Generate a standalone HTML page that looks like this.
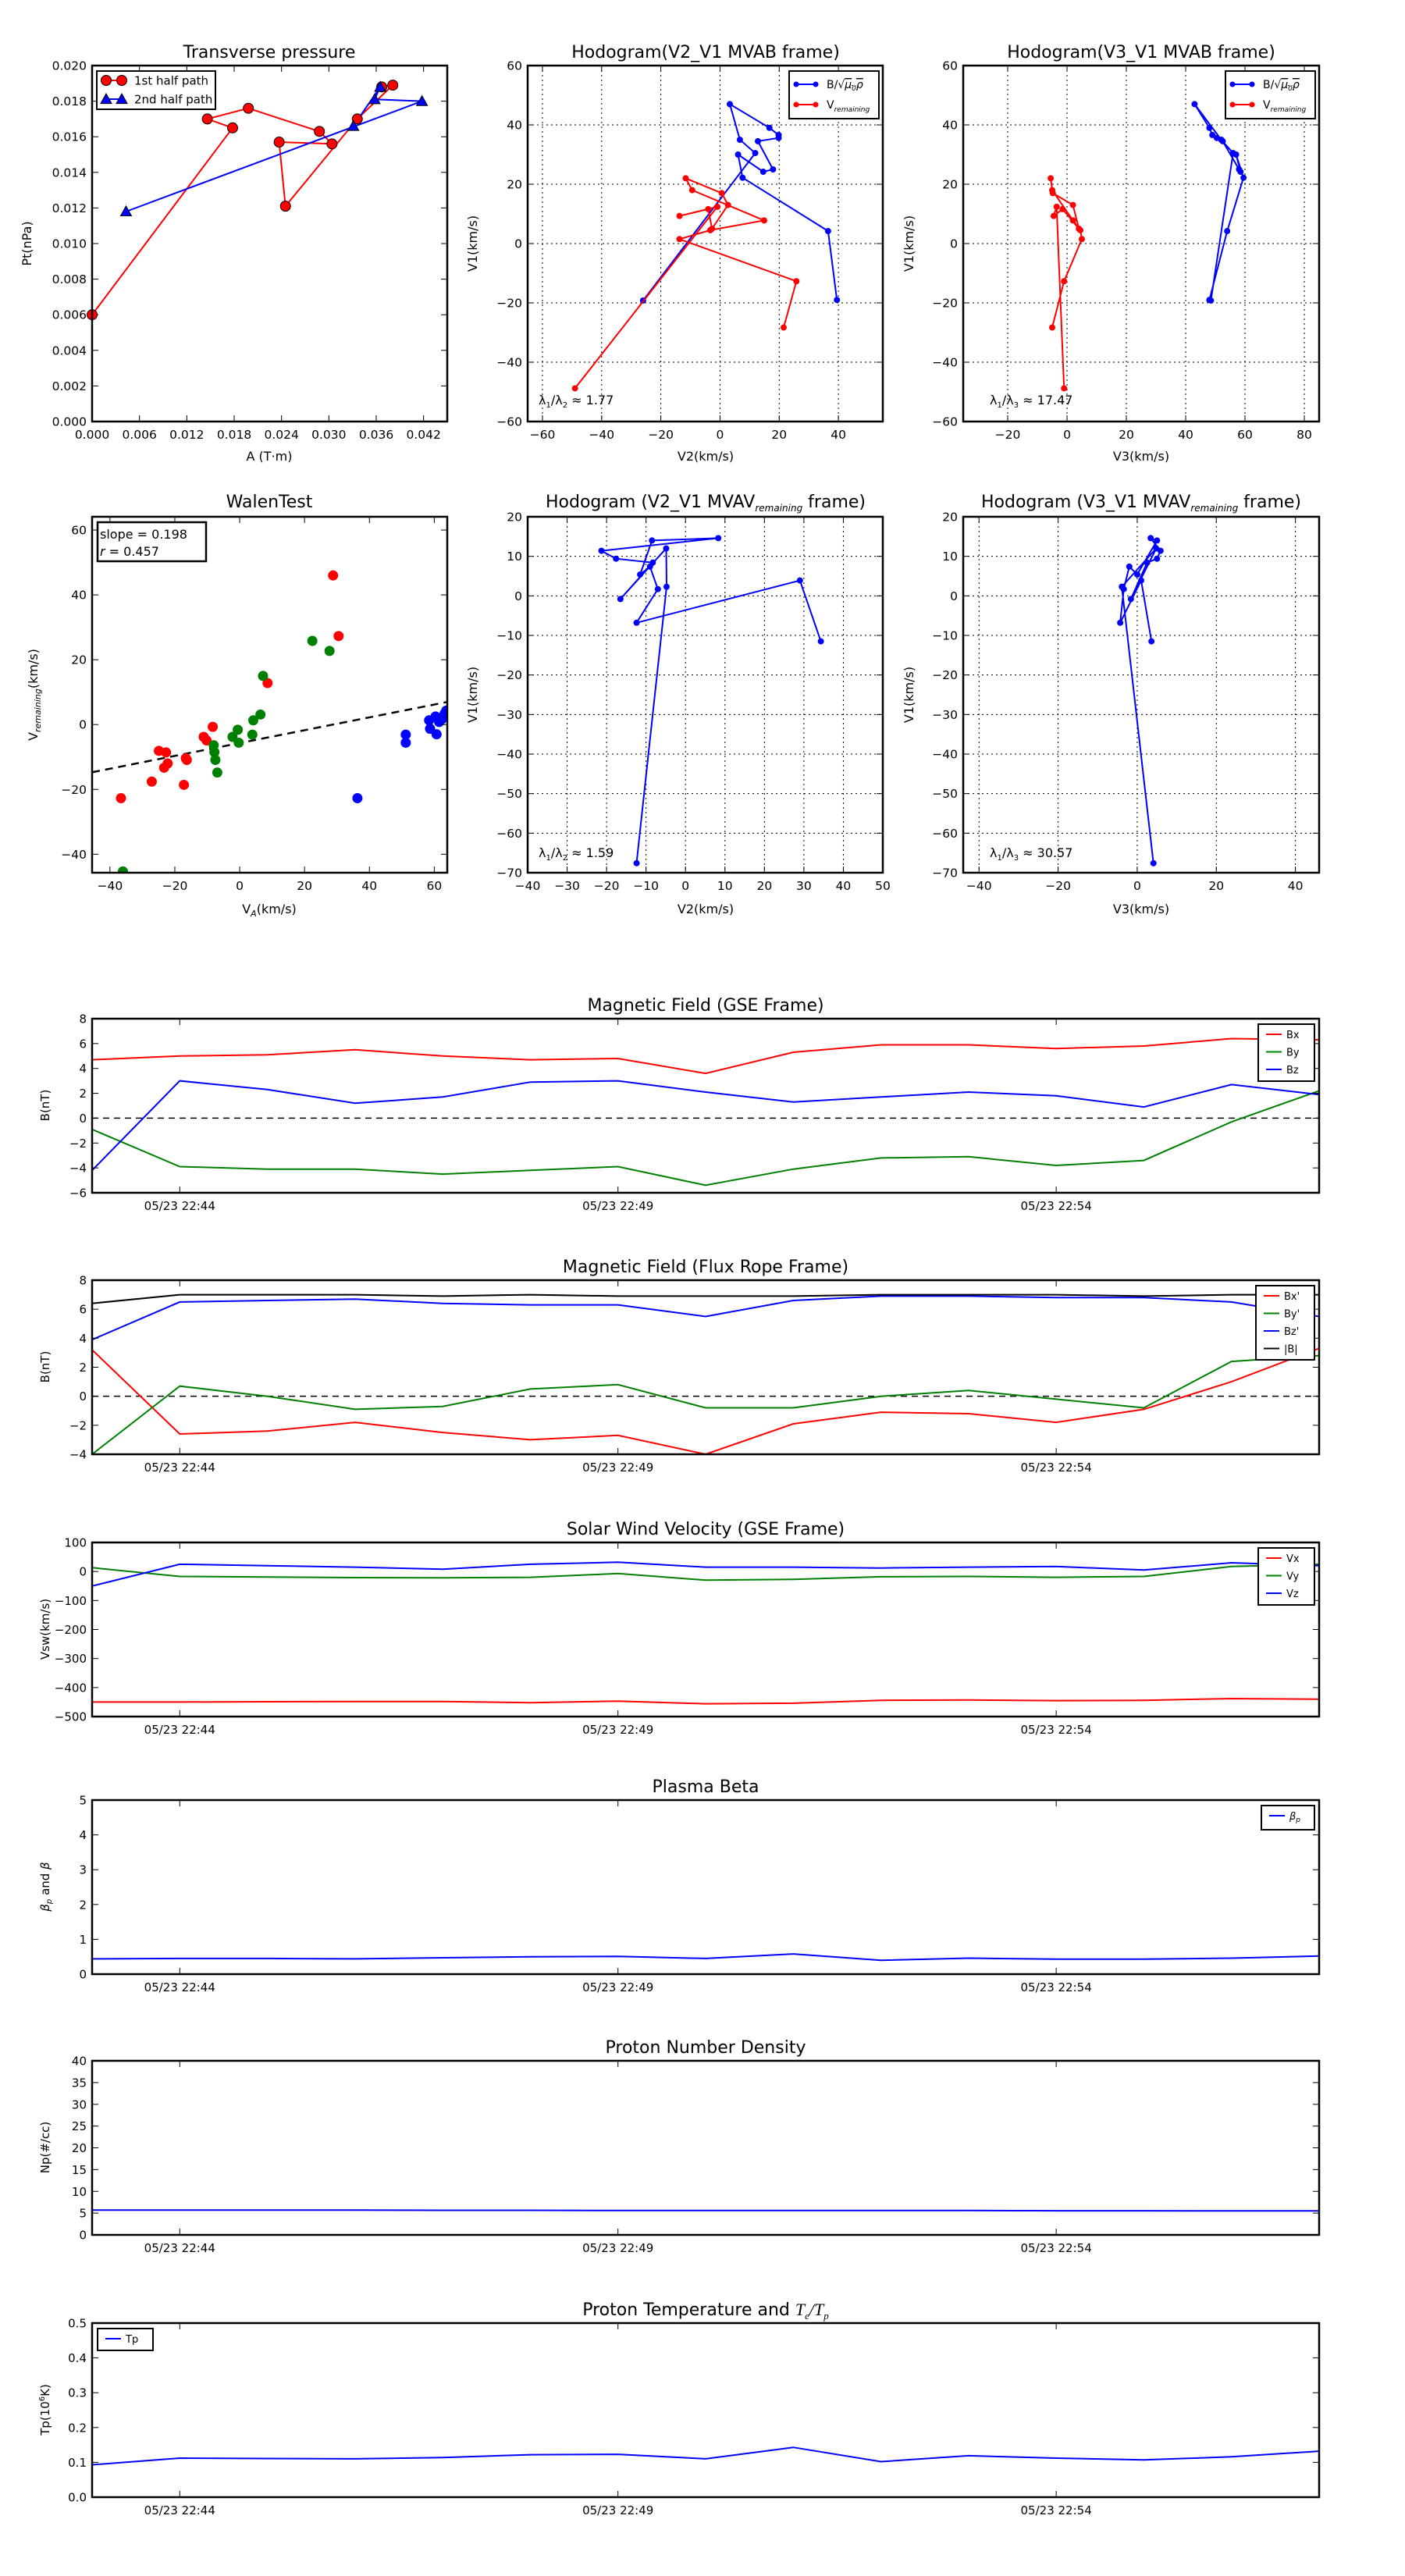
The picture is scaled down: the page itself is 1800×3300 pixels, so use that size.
<!DOCTYPE html>
<html><head><meta charset="utf-8"><style>
html,body{margin:0;padding:0;background:#fff;}
svg{display:block;}
</style></head><body>
<svg id="fig" xmlns="http://www.w3.org/2000/svg" width="1800" height="3300" viewBox="0 0 1800 3300">
<rect x="0" y="0" width="1800" height="3300" fill="#fff"/>
</svg>
<script>
// ---------- data ----------
const tpA1 = [0.000, 0.0178, 0.0146, 0.0198, 0.0288, 0.0304, 0.0237, 0.0245, 0.0336, 0.0381, 0.0367];
const tpP1 = [0.0060, 0.0165, 0.0170, 0.0176, 0.0163, 0.0156, 0.0157, 0.0121, 0.0170, 0.0189, 0.0188];
const tpA2 = [0.0043, 0.0418, 0.0358, 0.0365, 0.0331];
const tpP2 = [0.0118, 0.0180, 0.0181, 0.0188, 0.0166];

const mvabBV1 = [-19.2, 30.5, 35, 47, 39, 36.6, 35.6, 34.5, 25, 24.2, 30, 22.2, 4.2, -19];
const mvabBV2 = [-26, 11.9, 6.7, 3.3, 16.7, 19.8, 19.8, 12.8, 17.9, 14.6, 6.1, 7.6, 36.5, 39.5];
const mvabBV3 = [48.5, 56, 52, 43, 48, 49, 50.5, 52.5, 58, 58.5, 57, 59.5, 54, 48];
const mvabVV1 = [-48.8, 12.4, 9.3, 11.6, 5, 13, 17, 22, 18, 7.8, 4.5, 1.5, -12.7, -28.3];
const mvabVV2 = [-49, -0.9, -13.7, -4.0, -2.7, 2.7, 0.6, -11.6, -9.4, 14.9, -3.3, -13.7, 25.8, 21.5];
const mvabVV3 = [-1, -3.5, -4.5, -1.5, 4, 2, -4.8, -5.5, -5, 2, 4.5, 5, -1, -5];

const walenRedX = [28.8, 30.5, 8.6, -8.3, -11.1, -10.2, -24.9, -22.7, -22.2, -23.3, -16.6, -16.3, -27.1, -17.2, -36.6];
const walenRedY = [46, 27.3, 12.8, -0.7, -3.8, -4.9, -8.1, -8.6, -12, -13.3, -10.4, -10.9, -17.6, -18.6, -22.7];
const walenGreenX = [22.4, 27.7, 7.2, 6.4, 4.2, -0.6, -2.2, -0.3, 3.9, -8, -7.8, -7.5, -6.9, -36];
const walenGreenY = [25.8, 22.7, 15, 3.1, 1.3, -1.6, -3.8, -5.6, -3.1, -6.4, -8.5, -10.9, -14.8, -45.3];
const walenBlueX = [36.3, 51.2, 51.2, 58.4, 58.7, 60.4, 60.7, 61.5, 62.3, 63.2, 63.7];
const walenBlueY = [-22.7, -3.1, -5.6, 1.3, -1.3, 2.5, -3, 0.8, 1.6, 3.4, 4.3];
const walenSlope = 0.198;
const walenIntercept = -5.7;

const mvavV1 = [-67.6, 2.3, 12, -0.8, 8.4, 9.4, 11.4, 14.6, 14, 5.4, 7.4, 1.7, -6.8, 3.9, -11.5];
const mvavV2 = [-12.4, -4.8, -4.9, -16.5, -8.3, -17.6, -21.3, 8.3, -8.5, -11.5, -9, -7, -12.4, 29, 34.3];
const mvavV3 = [4.1, -3.9, 4.8, -1.6, 2.5, 5, 5.9, 3.4, 5, 0, -2, -3.4, -4.3, 1, 3.6];

const timeTickIdx = [1, 6, 11];
const timeTickLabels = ['05/23 22:44', '05/23 22:49', '05/23 22:54'];

const bxGse = [4.7, 5.0, 5.1, 5.5, 5.0, 4.7, 4.8, 3.6, 5.3, 5.9, 5.9, 5.6, 5.8, 6.4, 6.3];
const byGse = [-0.9, -3.9, -4.1, -4.1, -4.5, -4.2, -3.9, -5.4, -4.1, -3.2, -3.1, -3.8, -3.4, -0.3, 2.2];
const bzGse = [-4.2, 3.0, 2.3, 1.2, 1.7, 2.9, 3.0, 2.1, 1.3, 1.7, 2.1, 1.8, 0.9, 2.7, 1.9];

const bxFr = [3.2, -2.6, -2.4, -1.8, -2.5, -3.0, -2.7, -4.0, -1.9, -1.1, -1.2, -1.8, -0.9, 1.0, 3.3];
const byFr = [-4.0, 0.7, 0.0, -0.9, -0.7, 0.5, 0.8, -0.8, -0.8, 0.0, 0.4, -0.2, -0.8, 2.4, 2.8];
const bzFr = [3.9, 6.5, 6.6, 6.7, 6.4, 6.3, 6.3, 5.5, 6.6, 6.9, 6.9, 6.8, 6.8, 6.5, 5.5];
const bTot = [6.4, 7.0, 7.0, 7.0, 6.9, 7.0, 6.9, 6.9, 6.9, 7.0, 7.0, 7.0, 6.9, 7.0, 7.0];

const vxGse = [-450, -450, -449, -448, -448, -452, -447, -456, -454, -444, -443, -445, -444, -438, -440];
const vyGse = [13, -17, -19, -21, -22, -20, -7, -30, -27, -18, -17, -20, -17, 17, 25];
const vzGse = [-50, 25, 20, 15, 8, 25, 32, 15, 15, 12, 15, 17, 5, 30, 20];

const betaP = [0.44, 0.45, 0.45, 0.44, 0.47, 0.50, 0.51, 0.45, 0.58, 0.40, 0.46, 0.43, 0.43, 0.46, 0.52];
const densNp = [5.7, 5.7, 5.7, 5.7, 5.65, 5.65, 5.6, 5.6, 5.6, 5.6, 5.6, 5.55, 5.55, 5.5, 5.5];
const tempTp = [0.093, 0.112, 0.111, 0.110, 0.114, 0.122, 0.123, 0.110, 0.143, 0.102, 0.119, 0.112, 0.107, 0.116, 0.132];

// ---------- helpers ----------
const NS = 'http://www.w3.org/2000/svg';
const svg = document.getElementById('fig');
const FONT = '"DejaVu Sans", "Liberation Sans", sans-serif';
let clipId = 0;
function mk(tag, attrs, parent) {
  const e = document.createElementNS(NS, tag);
  for (const k in attrs) e.setAttribute(k, attrs[k]);
  (parent || svg).appendChild(e);
  return e;
}
function txt(parent, x, y, s, size, anchor, extra) {
  const t = mk('text', Object.assign({x: x, y: y, 'font-size': size, 'text-anchor': anchor || 'middle', 'font-family': FONT, fill: '#000'}, extra || {}), parent);
  t.innerHTML = s;
  return t;
}
function neg(s) { return s.replace('-', '\u2212'); }

function makeAxes(name, box, xr, yr, xticks, yticks, xfmt, yfmt, grid, tickSize) {
  const fs = tickSize || 15.5;
  const g = mk('g', {});
  
  
  const x0 = box[0], y0 = box[1], x1 = box[2], y1 = box[3];
  const sx = v => x0 + (v - xr[0]) / (xr[1] - xr[0]) * (x1 - x0);
  const sy = v => y1 - (v - yr[0]) / (yr[1] - yr[0]) * (y1 - y0);
  const id = 'clip' + (clipId++);
  const cp = mk('clipPath', {id: id}, g);
  mk('rect', {x: x0, y: y0, width: x1 - x0, height: y1 - y0}, cp);
  if (grid) {
    const gg = mk('g', {stroke: '#000', 'stroke-width': 1, 'stroke-dasharray': '2,4'}, g);
    
    
    xticks.forEach(v => { const X = sx(v); if (X > x0 + 1 && X < x1 - 1) mk('line', {x1: X, y1: y0, x2: X, y2: y1}, gg); });
    yticks.forEach(v => { const Y = sy(v); if (Y > y0 + 1 && Y < y1 - 1) mk('line', {x1: x0, y1: Y, x2: x1, y2: Y}, gg); });
  }
  const data = mk('g', {'clip-path': 'url(#' + id + ')'}, g);
  const xt = mk('g', {}, g);
  
  
  xticks.forEach((v, i) => {
    const X = sx(v);
    mk('line', {x1: X, y1: y1, x2: X, y2: y1 - 8, stroke: '#000', 'stroke-width': 1}, xt);
    mk('line', {x1: X, y1: y0, x2: X, y2: y0 + 8, stroke: '#000', 'stroke-width': 1}, xt);
    txt(xt, X, y1 + 22, neg(xfmt(v, i)), fs);
  });
  const yt = mk('g', {}, g);
  
  
  yticks.forEach((v, i) => {
    const Y = sy(v);
    mk('line', {x1: x0, y1: Y, x2: x0 + 8, y2: Y, stroke: '#000', 'stroke-width': 1}, yt);
    mk('line', {x1: x1, y1: Y, x2: x1 - 8, y2: Y, stroke: '#000', 'stroke-width': 1}, yt);
    txt(yt, x0 - 7, Y + 5.5, neg(yfmt(v, i)), fs, 'end');
  });
  return {g: g, data: data, sx: sx, sy: sy, x0: x0, y0: y0, x1: x1, y1: y1,
    frame: function () {
      const f = mk('rect', {x: x0, y: y0, width: x1 - x0, height: y1 - y0, fill: 'none', stroke: '#000', 'stroke-width': 2.5}, g);
      
      
    }};
}
function pathOf(ax, xs, ys) {
  return xs.map((v, i) => (i ? 'L' : 'M') + ax.sx(v).toFixed(1) + ',' + ax.sy(ys[i]).toFixed(1)).join('');
}
function dots(ax, parent, xs, ys, r, color, stroke) {
  xs.forEach((v, i) => {
    const c = mk('circle', {cx: ax.sx(v), cy: ax.sy(ys[i]), r: r, fill: color, stroke: stroke || color, 'stroke-width': 1}, parent);
    
    
  });
}
function triangles(ax, parent, xs, ys, s, color) {
  xs.forEach((v, i) => {
    const X = ax.sx(v), Y = ax.sy(ys[i]);
    const t = mk('polygon', {points: X + ',' + (Y - s) + ' ' + (X - s) + ',' + (Y + s * 0.8) + ' ' + (X + s) + ',' + (Y + s * 0.8), fill: color, stroke: '#000', 'stroke-width': 1}, parent);
    
    
  });
}
function label(x, y, s, size, name, rot) {
  const extra = rot ? {transform: 'rotate(-90 ' + x + ' ' + y + ')'} : {};
  const t = txt(svg, x, y, s, size, 'middle', extra);
  
  
  return t;
}
const f3 = v => v.toFixed(3);
const f0 = v => String(Math.round(v));
const SUBREM = '<tspan font-size="12" font-style="italic" dy="5">remaining</tspan><tspan dy="-5">';

// ---------- Transverse pressure ----------
(function () {
  const xt = [0, 0.006, 0.012, 0.018, 0.024, 0.030, 0.036, 0.042];
  const yt = [0, 0.002, 0.004, 0.006, 0.008, 0.010, 0.012, 0.014, 0.016, 0.018, 0.020];
  const ax = makeAxes('transverse-pressure-chart', [118, 84, 573, 540], [0, 0.045], [0, 0.020], xt, yt, f3, f3, false);
  const p1 = mk('path', {d: pathOf(ax, tpA1, tpP1), fill: 'none', stroke: '#f00', 'stroke-width': 2}, ax.data);
  
  
  const p2 = mk('path', {d: pathOf(ax, tpA2, tpP2), fill: 'none', stroke: '#00f', 'stroke-width': 2}, ax.data);
  
  
  const m1 = mk('g', {}, ax.g);
  
  
  dots(ax, m1, tpA1, tpP1, 6.5, '#f00', '#000');
  const m2 = mk('g', {}, ax.g);
  
  
  triangles(ax, m2, tpA2, tpP2, 7, '#00f');
  ax.frame();
  const lg = mk('g', {}, ax.g);
  
  
  mk('rect', {x: 124, y: 91, width: 152, height: 49, fill: '#fff', stroke: '#000', 'stroke-width': 2}, lg);
  mk('line', {x1: 136, y1: 103, x2: 156, y2: 103, stroke: '#f00', 'stroke-width': 2}, lg);
  mk('circle', {cx: 136, cy: 103, r: 6.5, fill: '#f00', stroke: '#000'}, lg);
  mk('circle', {cx: 156, cy: 103, r: 6.5, fill: '#f00', stroke: '#000'}, lg);
  txt(lg, 172, 108.5, '1st half path', 15, 'start');
  mk('line', {x1: 136, y1: 127, x2: 156, y2: 127, stroke: '#00f', 'stroke-width': 2}, lg);
  mk('polygon', {points: '136,120 129,132.6 143,132.6', fill: '#00f', stroke: '#000'}, lg);
  mk('polygon', {points: '156,120 149,132.6 163,132.6', fill: '#00f', stroke: '#000'}, lg);
  txt(lg, 172, 132.5, '2nd half path', 15, 'start');
  label(345, 74, 'Transverse pressure', 22, 'chart-title');
  label(345, 590, 'A (T·m)', 16, 'x-axis-title');
  label(40, 312, 'Pt(nPa)', 16, 'y-axis-title', true);
})();

// ---------- hodogram helper ----------
function hodoLegend(ax, x0, y0) {
  const lg = mk('g', {}, ax.g);
  
  
  mk('rect', {x: x0, y: y0, width: 115, height: 61, fill: '#fff', stroke: '#000', 'stroke-width': 2}, lg);
  [['#00f', 'B/√<tspan text-decoration="overline" font-style="italic">μ<tspan font-size="9" dy="3">0</tspan><tspan dy="-3">ρ</tspan></tspan>', 17], ['#f00', 'V' + '<tspan font-size="9" font-style="italic" dy="4">remaining</tspan>', 43]].forEach(e => {
    mk('line', {x1: x0 + 9, y1: y0 + e[2], x2: x0 + 34, y2: y0 + e[2], stroke: e[0], 'stroke-width': 2}, lg);
    mk('circle', {cx: x0 + 9, cy: y0 + e[2], r: 3.5, fill: e[0]}, lg);
    mk('circle', {cx: x0 + 34, cy: y0 + e[2], r: 3.5, fill: e[0]}, lg);
    txt(lg, x0 + 48, y0 + e[2] + 5, e[1], 14, 'start');
  });
}
function series(ax, xs, ys, color, name, r) {
  const p = mk('path', {d: pathOf(ax, xs, ys), fill: 'none', stroke: color, 'stroke-width': 2}, ax.data);
  
  
  const gm = mk('g', {}, ax.data);
  
  
  dots(ax, gm, xs, ys, r || 3.5, color);
}

// ---------- Hodogram V2_V1 MVAB ----------
(function () {
  const ax = makeAxes('hodogram-v2-v1-mvab', [676, 84, 1131, 540], [-65, 55], [-60, 60], [-60, -40, -20, 0, 20, 40], [-60, -40, -20, 0, 20, 40, 60], f0, f0, true);
  series(ax, mvabBV2, mvabBV1, '#00f', 'b-alfven');
  series(ax, mvabVV2, mvabVV1, '#f00', 'v-remaining');
  ax.frame();
  hodoLegend(ax, 1011, 91);
  const t = txt(svg, 690, 518, 'λ<tspan font-size="10" dy="4">1</tspan><tspan dy="-4">/λ</tspan><tspan font-size="10" dy="4">2</tspan><tspan dy="-4"> ≈ 1.77</tspan>', 16, 'start');
  
  
  label(904, 74, 'Hodogram(V2_V1 MVAB frame)', 22, 'chart-title');
  label(904, 590, 'V2(km/s)', 16, 'x-axis-title');
  label(611, 312, 'V1(km/s)', 16, 'y-axis-title', true);
})();

// ---------- Hodogram V3_V1 MVAB ----------
(function () {
  const ax = makeAxes('hodogram-v3-v1-mvab', [1234, 84, 1690, 540], [-35, 85], [-60, 60], [-20, 0, 20, 40, 60, 80], [-60, -40, -20, 0, 20, 40, 60], f0, f0, true);
  series(ax, mvabBV3, mvabBV1, '#00f', 'b-alfven');
  series(ax, mvabVV3, mvabVV1, '#f00', 'v-remaining');
  ax.frame();
  hodoLegend(ax, 1570, 91);
  const t = txt(svg, 1268, 518, 'λ<tspan font-size="10" dy="4">1</tspan><tspan dy="-4">/λ</tspan><tspan font-size="10" dy="4">3</tspan><tspan dy="-4"> ≈ 17.47</tspan>', 16, 'start');
  
  
  label(1462, 74, 'Hodogram(V3_V1 MVAB frame)', 22, 'chart-title');
  label(1462, 590, 'V3(km/s)', 16, 'x-axis-title');
  label(1170, 312, 'V1(km/s)', 16, 'y-axis-title', true);
})();

// ---------- Walen test ----------
(function () {
  const ax = makeAxes('walen-test-chart', [118, 662, 573, 1118], [-45.5, 64], [-45.7, 64.1], [-40, -20, 0, 20, 40, 60], [-40, -20, 0, 20, 40, 60], f0, f0, false);
  const l = mk('line', {x1: ax.sx(-45.5), y1: ax.sy(walenSlope * -45.5 + walenIntercept), x2: ax.sx(64), y2: ax.sy(walenSlope * 64 + walenIntercept), stroke: '#000', 'stroke-width': 2.5, 'stroke-dasharray': '10,7'}, ax.data);
  
  
  const gr = mk('g', {}, ax.data);
  
  
  dots(ax, gr, walenRedX, walenRedY, 6, '#f00');
  const gg = mk('g', {}, ax.data);
  
  
  dots(ax, gg, walenGreenX, walenGreenY, 6, '#008000');
  const gb = mk('g', {}, ax.data);
  
  
  dots(ax, gb, walenBlueX, walenBlueY, 6, '#00f');
  ax.frame();
  const lg = mk('g', {}, ax.g);
  
  
  mk('rect', {x: 125, y: 669, width: 139, height: 50, fill: '#fff', stroke: '#000', 'stroke-width': 2.5}, lg);
  txt(lg, 128, 690, 'slope = ' + walenSlope.toFixed(3), 16, 'start');
  txt(lg, 128, 712, '<tspan font-style="italic">r</tspan> = 0.457', 16, 'start');
  label(345, 650, 'WalenTest', 22, 'chart-title');
  label(345, 1170, 'V<tspan font-size="11" font-style="italic" dy="4">A</tspan><tspan dy="-4">(km/s)</tspan>', 16, 'x-axis-title');
  label(48, 890, 'V<tspan font-size="11" font-style="italic" dy="4">remaining</tspan><tspan dy="-4">(km/s)</tspan>', 16, 'y-axis-title', true);
})();

// ---------- Hodogram MVAV ----------
(function () {
  const ax = makeAxes('hodogram-v2-v1-mvav', [676, 662, 1131, 1118], [-40, 50], [-70, 20], [-40, -30, -20, -10, 0, 10, 20, 30, 40, 50], [-70, -60, -50, -40, -30, -20, -10, 0, 10, 20], f0, f0, true);
  series(ax, mvavV2, mvavV1, '#00f', 'b-alfven');
  ax.frame();
  const t = txt(svg, 690, 1098, 'λ<tspan font-size="10" dy="4">1</tspan><tspan dy="-4">/λ</tspan><tspan font-size="10" dy="4">2</tspan><tspan dy="-4"> ≈ 1.59</tspan>', 16, 'start');
  
  
  label(904, 650, 'Hodogram (V2_V1 MVAV' + SUBREM + ' frame)</tspan>', 22, 'chart-title');
  label(904, 1170, 'V2(km/s)', 16, 'x-axis-title');
  label(611, 890, 'V1(km/s)', 16, 'y-axis-title', true);
})();
(function () {
  const ax = makeAxes('hodogram-v3-v1-mvav', [1234, 662, 1690, 1118], [-44, 46], [-70, 20], [-40, -20, 0, 20, 40], [-70, -60, -50, -40, -30, -20, -10, 0, 10, 20], f0, f0, true);
  series(ax, mvavV3, mvavV1, '#00f', 'b-alfven');
  ax.frame();
  const t = txt(svg, 1268, 1098, 'λ<tspan font-size="10" dy="4">1</tspan><tspan dy="-4">/λ</tspan><tspan font-size="10" dy="4">3</tspan><tspan dy="-4"> ≈ 30.57</tspan>', 16, 'start');
  
  
  label(1462, 650, 'Hodogram (V3_V1 MVAV' + SUBREM + ' frame)</tspan>', 22, 'chart-title');
  label(1462, 1170, 'V3(km/s)', 16, 'x-axis-title');
  label(1170, 890, 'V1(km/s)', 16, 'y-axis-title', true);
})();

// ---------- time series panels ----------
function tsPanel(name, top, title, ylabel, yr, yticks, yfmt, ser, legend, zero) {
  const bottom = top + 223;
  const ax = makeAxes(name, [118, top, 1690, bottom], [0, 14], yr, timeTickIdx, yticks, (v, i) => timeTickLabels[i], yfmt, false, 15);
  if (zero) {
    const z = mk('line', {x1: 118, y1: ax.sy(0), x2: 1690, y2: ax.sy(0), stroke: '#000', 'stroke-width': 1.5, 'stroke-dasharray': '8,6'}, ax.data);
    
    
  }
  ser.forEach(s => {
    const p = mk('path', {d: pathOf(ax, s.vals.map((v, i) => i), s.vals), fill: 'none', stroke: s.color, 'stroke-width': 2}, ax.data);
    
    
  });
  ax.frame();
  if (legend) {
    const lg = mk('g', {}, ax.g);
    
    
    mk('rect', {x: legend[0], y: legend[1], width: legend[2], height: legend[3], fill: '#fff', stroke: '#000', 'stroke-width': 2}, lg);
    ser.forEach((s, i) => {
      const y = legend[1] + 13 + i * 22.5;
      mk('line', {x1: legend[0] + 10, y1: y, x2: legend[0] + 30, y2: y, stroke: s.color, 'stroke-width': 2}, lg);
      txt(lg, legend[0] + 36, y + 5, s.label, 13, 'start');
    });
  }
  label(904, top - 10, title, 22, 'chart-title');
  label(63, top + 111, ylabel, 15, 'y-axis-title', true);
}
tsPanel('magnetic-field-gse-chart', 1305, 'Magnetic Field (GSE Frame)', 'B(nT)', [-6, 8], [-6, -4, -2, 0, 2, 4, 6, 8], f0,
  [{vals: bxGse, color: '#f00', name: 'bx', label: 'Bx'}, {vals: byGse, color: '#008000', name: 'by', label: 'By'}, {vals: bzGse, color: '#00f', name: 'bz', label: 'Bz'}],
  [1612, 1312, 72, 73], true);
tsPanel('magnetic-field-flux-rope-chart', 1640, 'Magnetic Field (Flux Rope Frame)', 'B(nT)', [-4, 8], [-4, -2, 0, 2, 4, 6, 8], f0,
  [{vals: bxFr, color: '#f00', name: 'bx-prime', label: "Bx'"}, {vals: byFr, color: '#008000', name: 'by-prime', label: "By'"}, {vals: bzFr, color: '#00f', name: 'bz-prime', label: "Bz'"}, {vals: bTot, color: '#000', name: 'b-total', label: '|B|'}],
  [1609, 1647, 75, 95], true);
tsPanel('solar-wind-velocity-chart', 1976, 'Solar Wind Velocity (GSE Frame)', 'Vsw(km/s)', [-500, 100], [-500, -400, -300, -200, -100, 0, 100], f0,
  [{vals: vxGse, color: '#f00', name: 'vx', label: 'Vx'}, {vals: vyGse, color: '#008000', name: 'vy', label: 'Vy'}, {vals: vzGse, color: '#00f', name: 'vz', label: 'Vz'}],
  [1612, 1983, 72, 73], false);
tsPanel('plasma-beta-chart', 2306, 'Plasma Beta', '<tspan font-style="italic">β<tspan font-size="10" dy="3">p</tspan></tspan><tspan dy="-3"> and </tspan><tspan font-style="italic">β</tspan>', [0, 5], [0, 1, 2, 3, 4, 5], f0,
  [{vals: betaP, color: '#00f', name: 'beta-p', label: '<tspan font-style="italic">β<tspan font-size="9" dy="3">p</tspan></tspan>'}],
  [1616, 2313, 68, 31], false);
tsPanel('proton-density-chart', 2640, 'Proton Number Density', 'Np(#/cc)', [0, 40], [0, 5, 10, 15, 20, 25, 30, 35, 40], f0,
  [{vals: densNp, color: '#00f', name: 'np', label: 'Np'}], null, false);
tsPanel('proton-temperature-chart', 2976, 'Proton Temperature and <tspan font-family="Liberation Serif, serif" font-style="italic">T<tspan font-size="13" dy="5">e</tspan><tspan dy="-5">/T</tspan><tspan font-size="13" dy="5">p</tspan></tspan>', 'Tp(10<tspan font-size="10" dy="-6">6</tspan><tspan dy="6">K)</tspan>', [0, 0.5], [0, 0.1, 0.2, 0.3, 0.4, 0.5], v => v.toFixed(1),
  [{vals: tempTp, color: '#00f', name: 'tp', label: 'Tp'}],
  [125, 2983, 71, 28], false);
</script>
</body></html>
